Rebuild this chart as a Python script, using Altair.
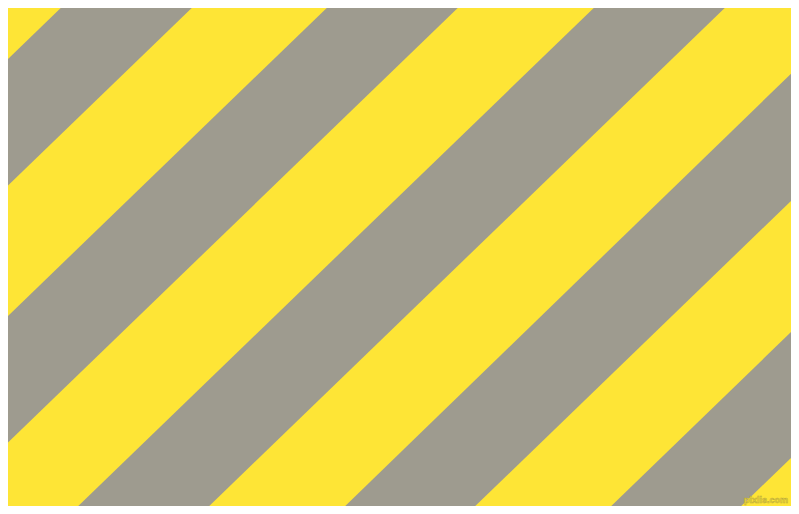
import altair as alt
import pandas as pd

# Gray stripes: x where each stripe's edges cross
# the top edge (y=0) and the bottom edge (y=514) of the 799x514 image.
stripe_id = [1, 2, 3, 4, 5]
top_left = [69, 335, 602, 867, 1134]
top_right = [200, 466, 733, 999, 1265]
bottom_left = [-463, -197, 70, 337, 603]
bottom_right = [-332, -66, 201, 467, 733]
edge_y = [0, 514]

yellow = "#FEE536"
gray = "#9E9B8F"

rows = []
for i, s in enumerate(stripe_id):
    rows.append({"stripe": s, "y": edge_y[0], "xl": top_left[i], "xr": top_right[i]})
    rows.append({"stripe": s, "y": edge_y[1], "xl": bottom_left[i], "xr": bottom_right[i]})
df = pd.DataFrame(rows)

# visible region of the reference (page has an 8px margin)
X0, X1, Y0, Y1 = 8, 791, 8, 506

xs = alt.Scale(domain=[X0, X1], nice=False, zero=False)
ys = alt.Scale(domain=[Y0, Y1], nice=False, zero=False, reverse=True)

stripes = alt.Chart(df).mark_area(
    orient="horizontal", color=gray, clip=True, interpolate="linear"
).encode(
    y=alt.Y("y:Q", scale=ys, axis=None),
    x=alt.X("xl:Q", scale=xs, axis=None, stack=None),
    x2="xr:Q",
    detail="stripe:N",
)

wm = pd.DataFrame({"x": [788], "y": [503], "t": ["pixlis.com"]})
watermark = alt.Chart(wm).mark_text(
    font="Liberation Sans", fontSize=9, fontWeight="bold", color=yellow,
    stroke="#BFAE3C", strokeWidth=0.6, baseline="alphabetic", align="right"
).encode(
    x=alt.X("x:Q", scale=xs, axis=None),
    y=alt.Y("y:Q", scale=ys, axis=None),
    text="t:N",
)

chart = alt.layer(stripes, watermark).properties(
    width=X1 - X0, height=Y1 - Y0, background=yellow, padding=0
).configure_view(stroke=None, fill=yellow)

chart.save("out.html", embed_options={"renderer": "svg", "actions": False})
